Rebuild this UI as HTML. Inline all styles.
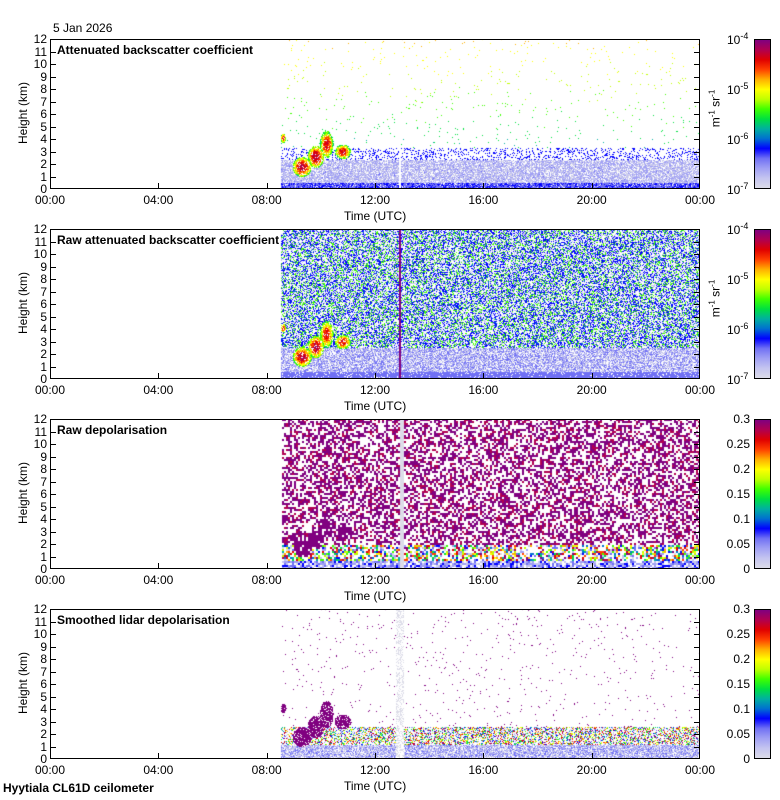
<!DOCTYPE html>
<html><head><meta charset="utf-8">
<style>
body{margin:0;background:#fff;width:780px;height:800px;position:relative;overflow:hidden;font-family:"Liberation Sans",sans-serif;color:#000}
.abs{position:absolute}
.lbl{position:absolute;font-size:12px;white-space:nowrap}
canvas{position:absolute}
</style></head><body>
<div class="lbl" style="left:53px;top:21px;font-size:12px">5 Jan 2026</div>
<div class="lbl" style="left:3px;top:781px;font-weight:bold;font-size:12px">Hyytiala CL61D ceilometer</div>
<div id="root"></div>
<script>
const panelTitles=["Attenuated backscatter coefficient","Raw attenuated backscatter coefficient","Raw depolarisation","Smoothed lidar depolarisation"];
const panelTops=[39,229,419,609];
const heightTicks=[0,1,2,3,4,5,6,7,8,9,10,11,12];
const timeTicks=[0,4,8,12,16,20,24];
const timeLabels=["00:00","04:00","08:00","12:00","16:00","20:00","00:00"];
const logCbLabels=["-4","-5","-6","-7"];
const depCbLabels=["0.3","0.25","0.2","0.15","0.1","0.05","0"];
const dataStart=8.5; // UTC hours where data begins
const cloudBlobs=[[9.3,1.8,0.35,0.8,0.5],[9.8,2.6,0.3,0.9,0.5],[10.2,3.6,0.25,1.1,0.45],[10.8,3.0,0.3,0.6,0.45],[8.6,4.1,0.1,0.4,0.45],[12.8,2.8,0.3,0.15,0.6]];
const cmap=['#dcdce8','#c4c4f0','#a0a0f4','#7070f4','#0000ff','#0070d0','#00b0a0','#00e040','#40ff00','#c0ff00','#ffff00','#ffb000','#ff4000','#e00000','#b00050','#800080'];
const L=50,W=650,H=150;
const x=t=>L+t/24*W;
const yk=(top,h)=>top+H-h/12*H;
function hash(a,b,c){let n=(a*374761393+b*668265263+c*2147483647)|0;n=(n^(n>>>13))*1274126177|0;n=n^(n>>>16);return (n>>>0)/4294967296;}
const root=document.getElementById('root');
function add(tag,props,name){const e=document.createElement(tag);Object.assign(e.style,props.style||{});if(props.cls)e.className=props.cls;if(props.html!==undefined)e.innerHTML=props.html;


root.appendChild(e);return e;}
function col(v){v=Math.max(0,Math.min(0.999,v));return cmap[Math.floor(v*cmap.length)];}
function cloudVal(t,h){for(const b of cloudBlobs){const d=((t-b[0])/b[2])**2+((h-b[1])/b[3])**2;if(d<1)return b[4]+(1-d)*0.4;}return null;}
panelTops.forEach((top,p)=>{
  const cv=add('canvas',{style:{left:L+'px',top:top+'px'}},'plot-area-'+(p+1));
  cv.width=W;cv.height=H;const g=cv.getContext('2d');
  const cs=(p==2)?2:1;
  for(let i=0;i<W;i+=cs){const t=i/W*24;if(t<dataStart)continue;
    for(let j=0;j<H;j+=cs){const h=(H-j)/H*12;const r=hash(i,j,p+1),r2=hash(j,i,p+7);let v=null;
      const cl=cloudVal(t,h);
      if(p==0){ if(cl!==null&&r<0.85&&t<11.5)v=cl+(r2-0.5)*0.15;
        else if(h<0.5)v=r<0.9?0.2+r2*0.08:null;
        else if(h<2.4)v=r<0.8?0.04+r2*0.15:null;
        else if(h<3.3)v=r<0.2?0.28:null;
        else v=r<0.012?0.3+h/12*0.38+r2*0.05:null;
        if(Math.abs(t-12.9)<0.05)v=null;}
      else if(p==1){ if(cl!==null&&r<0.85&&t<11.5)v=cl+(r2-0.5)*0.15;
        else if(h<0.6)v=r<0.9?0.24:null;
        else if(h<2.5)v=r<0.75?0.04+r2*0.2:null;
        else v=r<0.6?(r2<0.25?0.12:(r2<0.75?0.26+r2*0.08:0.4+r2*0.15)):null;
        if(Math.abs(t-12.9)<0.05)v=0.97;}
      else if(p==2){ if(cl!==null&&r<0.85&&t<11.5)v=0.95;
        else if(h<0.8)v=r<0.8?0.05+r2*0.25:null;
        else if(h<2)v=r<0.6?r2:null;
        else v=r<0.5?(r2<0.75?0.95:0.88):null;
        if(Math.abs(t-12.95)<0.07)v=0.02;}
      else { if(cl!==null&&r<0.85&&t<11.5)v=0.95;
        else if(h<1.2)v=r<0.8?0.03+r2*0.2:null;
        else if(h<2.6)v=r<0.5?r2:null;
        else v=r<0.012?0.95:null;
        if(Math.abs(t-12.9)<0.15)v=r<0.4?0.03:null;}
      if(v!==null){g.fillStyle=col(v);g.fillRect(i,j,cs,cs);}
    }}
  add('div',{style:{position:'absolute',left:L+'px',top:top+'px',width:W+'px',height:H+'px',border:'1px solid #000',boxSizing:'border-box'}},'plot-frame-'+(p+1));
  add('div',{cls:'lbl',html:panelTitles[p],style:{left:(L+7)+'px',top:(top+4)+'px',fontWeight:'bold'}},'panel-title-'+(p+1));
  heightTicks.forEach(h=>{const yy=yk(top,h);
    add('div',{cls:'lbl',html:String(h),style:{left:'20px',width:'27px',textAlign:'right',top:(yy-7)+'px'}},'y-tick-label');
    if(h>0&&h<12){add('div',{style:{position:'absolute',left:L+'px',top:yy+'px',width:'6px',height:'1px',background:'#000'}},'y-tick');
      add('div',{style:{position:'absolute',left:(L+W-6)+'px',top:yy+'px',width:'6px',height:'1px',background:'#000'}},'y-tick-right');}
  });
  timeTicks.forEach((t,k)=>{const xx=x(t);
    add('div',{cls:'lbl',html:timeLabels[k],style:{left:(xx-20)+'px',width:'40px',textAlign:'center',top:(top+H+4)+'px'}},'x-tick-label');
    if(t>0&&t<24)add('div',{style:{position:'absolute',left:xx+'px',top:(top+H-6)+'px',width:'1px',height:'6px',background:'#000'}},'x-tick');
  });
  add('div',{cls:'lbl',html:'Time (UTC)',style:{left:'344px',top:(top+H+20)+'px'}},'x-axis-title');
  add('div',{cls:'lbl',html:'Height (km)',style:{left:'-8px',top:(top+67)+'px',transform:'rotate(-90deg)'}},'y-axis-title');
  add('div',{style:{position:'absolute',left:'754px',top:top+'px',width:'17px',height:H+'px',border:'1px solid #000',boxSizing:'border-box',background:'linear-gradient(to top,'+cmap.join(',')+')'}},'colorbar-'+(p+1));
  if(p<2){logCbLabels.forEach((s,k)=>add('div',{cls:'lbl',html:'10<sup style="font-size:9px">'+s+'</sup>',style:{left:'727px',top:(top+k*50-8)+'px'}},'colorbar-label'));
    add('div',{cls:'lbl',html:'m<sup style="font-size:8px">-1</sup> sr<sup style="font-size:8px">-1</sup>',style:{left:'696px',top:(top+62)+'px',transform:'rotate(-90deg)'}},'colorbar-unit');}
  else depCbLabels.forEach((s,k)=>add('div',{cls:'lbl',html:s,style:{left:'712px',width:'38px',textAlign:'right',top:(top+k*25-7)+'px'}},'colorbar-label'));
});
</script>
</body></html>
